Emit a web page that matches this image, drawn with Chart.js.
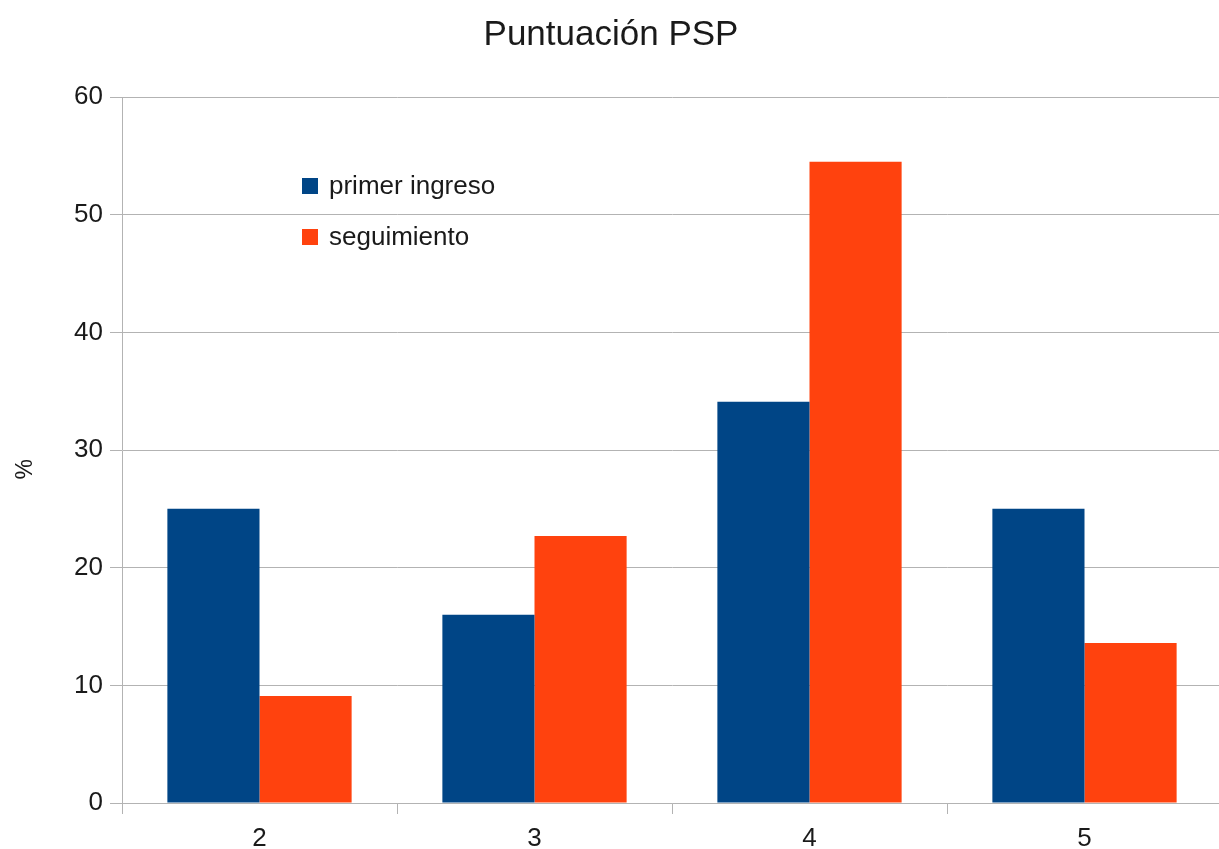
<!DOCTYPE html>
<html>
<head>
<meta charset="utf-8">
<script src="https://cdn.jsdelivr.net/npm/chart.js@4/dist/chart.umd.min.js"></script>
<style>
  html, body { margin: 0; padding: 0; background: #fff; overflow: hidden; }
  #wrap { width: 1222px; height: 849px; }
</style>
</head>
<body>
<div id="wrap"><canvas id="psp"></canvas></div>
<script>
const categories = ["2", "3", "4", "5"];
const primerIngreso = [25, 16, 34.1, 25];
const seguimiento = [9.1, 22.7, 54.5, 13.6];
const yTicks = [0, 10, 20, 30, 40, 50, 60];

const FONT = "'Liberation Sans', Arial, sans-serif";
const GRID = "#b3b3b3";

// legend drawn inside the plot, like the original
const innerLegend = {
  id: "innerLegend",
  afterDraw(chart) {
    const ctx = chart.ctx;
    const a = chart.chartArea;
    const x = a.left + 180, y0 = a.top + 89;
    ctx.save();
    ctx.font = "26px " + FONT;
    ctx.textBaseline = "middle";
    chart.data.datasets.forEach((ds, i) => {
      const y = y0 + i * 51;
      ctx.fillStyle = ds.backgroundColor;
      ctx.fillRect(x, y - 8, 16, 16);
      ctx.fillStyle = "#1a1a1a";
      ctx.fillText(ds.label, x + 27, y + 1);
    });
    ctx.restore();
  }
};

new Chart(document.getElementById("psp").getContext("2d"), {
  type: "bar",
  data: {
    labels: categories,
    datasets: [
      { label: "primer ingreso", backgroundColor: "#004586", data: primerIngreso },
      { label: "seguimiento", backgroundColor: "#ff420e", data: seguimiento },
    ],
  },
  options: {
    responsive: true,
    maintainAspectRatio: false,
    animation: false,
    events: [],
    layout: { padding: { left: 0, right: 0, top: 0, bottom: 0 } },
    datasets: { bar: { barPercentage: 1, categoryPercentage: 0.67 } },
    plugins: {
      legend: { display: false },
      tooltip: { enabled: false },
      title: {
        display: true,
        text: "Puntuación PSP",
        color: "#1a1a1a",
        font: { family: FONT, size: 35, weight: "normal" },
        padding: { top: 14, bottom: 41 },
      },
    },
    scales: {
      x: {
        offset: true,
        grid: { offset: true, drawOnChartArea: false, tickLength: 11, color: GRID },
        border: { color: GRID },
        ticks: { color: "#1a1a1a", padding: 9, font: { family: FONT, size: 26 } },
        afterFit(s) { s.height = 46; },
      },
      y: {
        min: 0,
        max: 60,
        afterBuildTicks(s) { s.ticks = yTicks.map(v => ({ value: v })); },
        grid: { color: GRID, tickLength: 12 },
        border: { color: GRID },
        ticks: { color: "#1a1a1a", padding: 7, font: { family: FONT, size: 26 } },
        title: {
          display: true,
          text: "%      ",
          color: "#1a1a1a",
          font: { family: FONT, size: 23 },
          padding: { top: 12, bottom: 0 },
        },
        afterFit(s) { s.width = 122; },
      },
    },
  },
  plugins: [innerLegend],
});
</script>
</body>
</html>
